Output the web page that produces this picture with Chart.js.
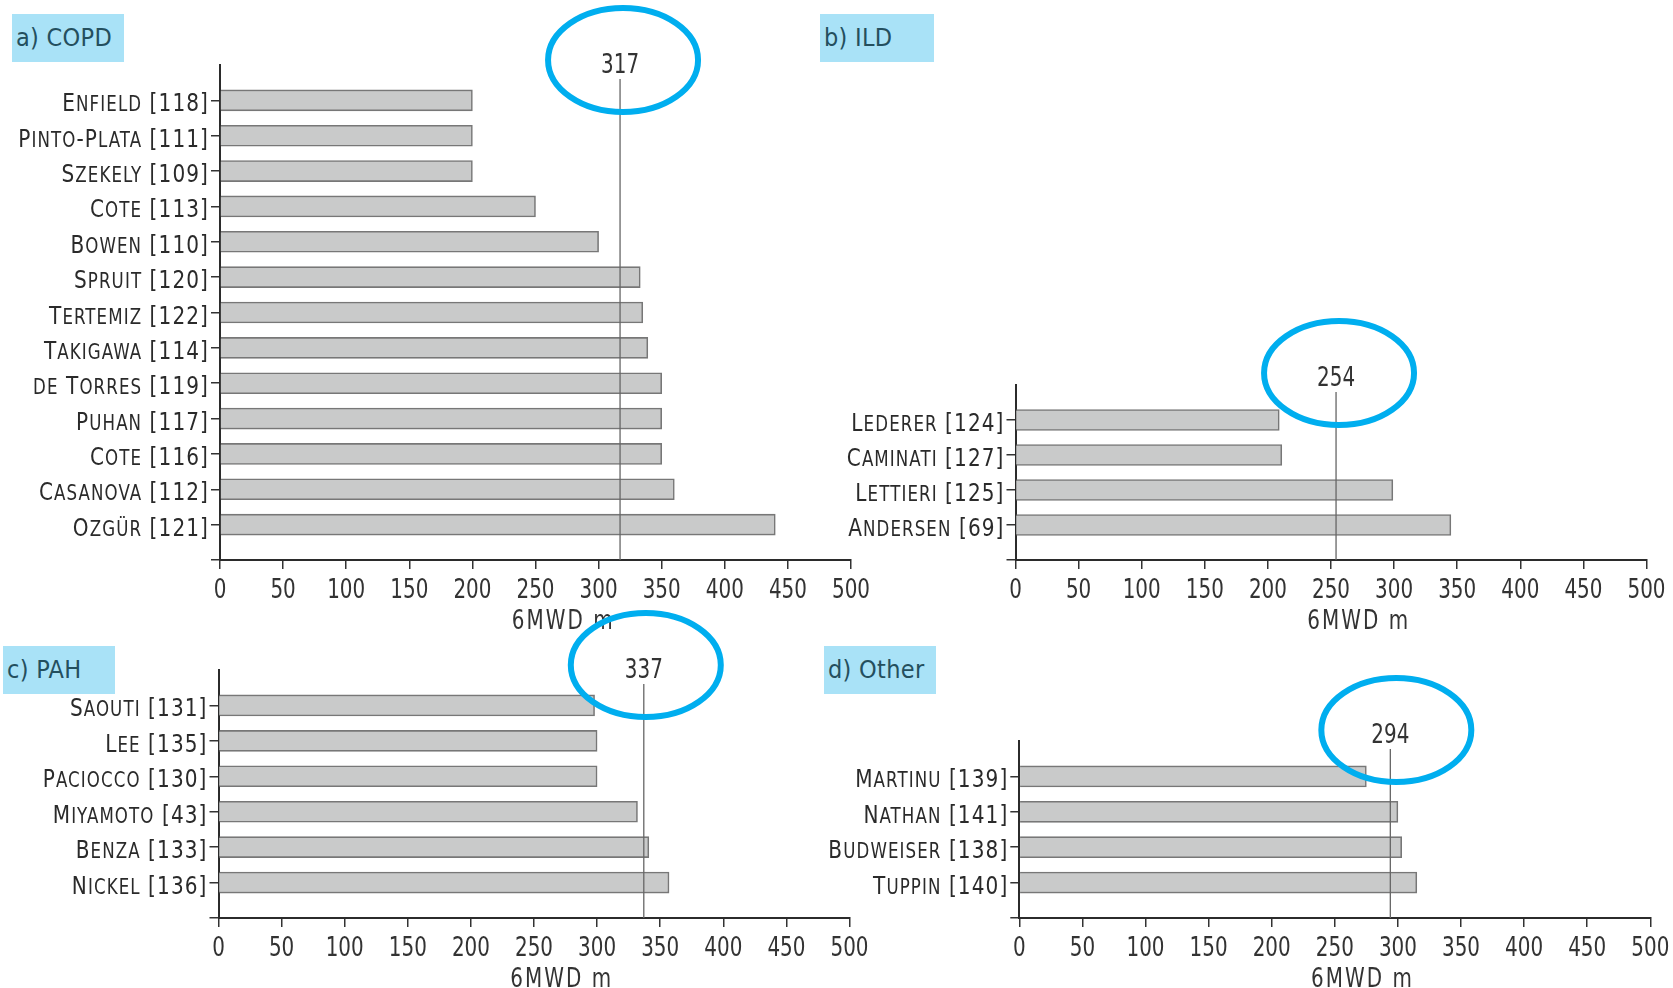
<!DOCTYPE html>
<html>
<head>
<meta charset="utf-8">
<script src="https://cdn.jsdelivr.net/npm/chart.js@4.4.1/dist/chart.umd.min.js"></script>
<style>
  html, body { margin: 0; padding: 0; background: #fff; }
  body { width: 1673px; height: 988px; position: relative; overflow: hidden; }
  canvas { position: absolute; }
  .tag {
    position: absolute;
    background: #a9e2f7;
    color: #244f5e;
    font-family: "DejaVu Sans Condensed", "DejaVu Sans", sans-serif;
    font-size: 25px;
    letter-spacing: 0.3px;
    line-height: 48px;
    height: 48px;
    padding-left: 4px;
    box-sizing: border-box;
    white-space: nowrap;
  }
</style>
</head>
<body>
<div class="tag" style="left:12px;top:14px;width:112px;">a) COPD</div>
<div class="tag" style="left:820px;top:14px;width:114px;">b) ILD</div>
<div class="tag" style="left:3px;top:646px;width:112px;">c) PAH</div>
<div class="tag" style="left:824px;top:646px;width:112px;">d) Other</div>

<canvas id="copd" width="880" height="640" style="left:0;top:0;"></canvas>
<canvas id="ild" width="873" height="340" style="left:800px;top:300px;"></canvas>
<canvas id="pah" width="880" height="388" style="left:0;top:600px;"></canvas>
<canvas id="other" width="873" height="348" style="left:800px;top:640px;"></canvas>

<script>
// Six-minute walk distance (m) reported by each study, grouped by disease
const copdStudies = ['Enfield [118]', 'Pinto-Plata [111]', 'Szekely [109]', 'Cote [113]', 'Bowen [110]',
  'Spruit [120]', 'Tertemiz [122]', 'Takigawa [114]', 'de Torres [119]', 'Puhan [117]', 'Cote [116]',
  'Casanova [112]', 'Ozgür [121]'];
const copdDistance = [200, 200, 200, 250, 300, 333, 335, 339, 350, 350, 350, 360, 440];
const copdMean = 317;

const ildStudies = ['Lederer [124]', 'Caminati [127]', 'Lettieri [125]', 'Andersen [69]'];
const ildDistance = [209, 211, 299, 345];
const ildMean = 254;

const pahStudies = ['Saouti [131]', 'Lee [135]', 'Paciocco [130]', 'Miyamoto [43]', 'Benza [133]', 'Nickel [136]'];
const pahDistance = [298, 300, 300, 332, 341, 357];
const pahMean = 337;

const otherStudies = ['Martinu [139]', 'Nathan [141]', 'Budweiser [138]', 'Tuppin [140]'];
const otherDistance = [275, 300, 303, 315];
const otherMean = 294;

const distanceTicks = [0, 50, 100, 150, 200, 250, 300, 350, 400, 450, 500];
const axisTitle = '6MWD m';

const FONT = '"DejaVu Sans Condensed", "DejaVu Sans", sans-serif';
const INK = '#333333';

// Text squeezed horizontally to a narrow, DIN-like width
function narrowText(ctx, text, x, y, size, squeeze, spacing, align) {
  ctx.save();
  ctx.font = size + 'px ' + FONT;
  ctx.letterSpacing = spacing + 'px';
  ctx.textAlign = align;
  ctx.translate(x, y);
  ctx.scale(squeeze, 1);
  ctx.fillText(text, 0, 0);
  ctx.restore();
}

// Draws a study label in small capitals, right-aligned at xRight
function drawSmallCaps(ctx, text, xRight, baseline, size, squeeze) {
  const runs = [];
  for (const ch of text) {
    const small = ch !== ch.toUpperCase();
    const last = runs[runs.length - 1];
    if (last && last.small === small) last.text += ch.toUpperCase();
    else runs.push({ small, text: ch.toUpperCase() });
  }
  ctx.save();
  ctx.letterSpacing = '1.2px';
  ctx.textAlign = 'left';
  let total = 0;
  runs.forEach(r => {
    r.font = (r.small ? size * 0.83 : size) + 'px ' + FONT;
    ctx.font = r.font;
    r.w = ctx.measureText(r.text).width;
    total += r.w;
  });
  ctx.translate(xRight - total * squeeze, baseline);
  ctx.scale(squeeze, 1);
  let x = 0;
  runs.forEach(r => {
    ctx.font = r.font;
    ctx.fillText(r.text, x, 0);
    x += r.w;
  });
  ctx.restore();
}

const panelDecor = {
  id: 'panelDecor',
  afterDraw(chart) {
    const cfg = chart.options.plugins.panelDecor;
    const { ctx, chartArea } = chart;
    const xs = chart.scales.x, ys = chart.scales.y;
    ctx.save();
    ctx.textBaseline = 'alphabetic';

    // study names beside the category ticks
    ctx.fillStyle = '#2a2a2a';
    cfg.studies.forEach((name, i) => {
      drawSmallCaps(ctx, name, chartArea.left - 11, ys.getPixelForValue(i) + 11, 24.5, 0.91);
    });

    // distance tick labels
    ctx.fillStyle = INK;
    distanceTicks.forEach(v => {
      narrowText(ctx, String(v), xs.getPixelForValue(v), chartArea.bottom + 38, 27, 0.82, 0, 'center');
    });

    // mean distance marker
    const mx = xs.getPixelForValue(cfg.mean);
    const ly = chartArea.top + cfg.labelDy;
    ctx.strokeStyle = '#666';
    ctx.lineWidth = 1.3;
    ctx.beginPath();
    ctx.moveTo(mx, ly + 16);
    ctx.lineTo(mx, chartArea.bottom);
    ctx.stroke();

    narrowText(ctx, String(cfg.mean), mx, ly + 10, 27, 0.82, 0, 'center');

    ctx.strokeStyle = '#00aeef';
    ctx.lineWidth = 6;
    ctx.beginPath();
    ctx.ellipse(mx + cfg.ringDx, ly - 3, 75, 52, 0, 0, Math.PI * 2);
    ctx.stroke();

    // x axis title
    narrowText(ctx, axisTitle, xs.getPixelForValue(272), chartArea.bottom + 69, 27, 0.82, 2.5, 'center');
    ctx.restore();
  }
};

function makePanel(id, studies, distance, mean, lay) {
  const n = studies.length;
  return new Chart(document.getElementById(id), {
    type: 'bar',
    data: {
      datasets: [{
        data: distance.map((v, i) => ({ x: v, y: i })),
        backgroundColor: '#c9caca',
        borderColor: '#777777',
        borderWidth: 1.6,
        barThickness: 21
      }]
    },
    options: {
      indexAxis: 'y',
      responsive: false,
      animation: false,
      layout: { padding: { top: lay.padTop, right: lay.padRight, left: 0, bottom: 0 } },
      plugins: {
        legend: { display: false },
        tooltip: { enabled: false },
        panelDecor: { studies, mean, labelDy: lay.labelDy, ringDx: lay.ringDx }
      },
      scales: {
        x: {
          type: 'linear',
          min: 0,
          max: 500,
          offset: false,
          afterBuildTicks: s => { s.ticks = distanceTicks.map(v => ({ value: v })); },
          afterFit: s => { s.height = lay.xAxisHeight; },
          ticks: { display: false },
          grid: { drawOnChartArea: false, drawTicks: true, tickLength: 9, color: INK, lineWidth: 1.5, offset: false },
          border: { display: true, color: '#2b2b2b', width: 2 }
        },
        y: {
          type: 'linear',
          reverse: true,
          min: -1,
          max: n,
          offset: false,
          afterBuildTicks: s => {
            const t = studies.map((_, i) => ({ value: i }));
            t.push({ value: n });
            s.ticks = t;
          },
          afterFit: s => { s.width = lay.yAxisWidth; },
          ticks: { display: false },
          grid: { drawOnChartArea: false, drawTicks: true, tickLength: 9, color: INK, lineWidth: 1.5, offset: false },
          border: { display: true, color: '#2b2b2b', width: 2 }
        }
      }
    },
    plugins: [panelDecor]
  });
}

makePanel('copd', copdStudies, copdDistance, copdMean,
  { yAxisWidth: 220, padTop: 65, padRight: 29, xAxisHeight: 80, labelDy: -2, ringDx: 3 });
makePanel('ild', ildStudies, ildDistance, ildMean,
  { yAxisWidth: 215.5, padTop: 85, padRight: 26.5, xAxisHeight: 80, labelDy: -9, ringDx: 3 });
makePanel('pah', pahStudies, pahDistance, pahMean,
  { yAxisWidth: 218.5, padTop: 70, padRight: 30.5, xAxisHeight: 70, labelDy: -2, ringDx: 2 });
makePanel('other', otherStudies, otherDistance, otherMean,
  { yAxisWidth: 219.3, padTop: 101, padRight: 22.7, xAxisHeight: 70, labelDy: -8, ringDx: 6 });
</script>
</body>
</html>
